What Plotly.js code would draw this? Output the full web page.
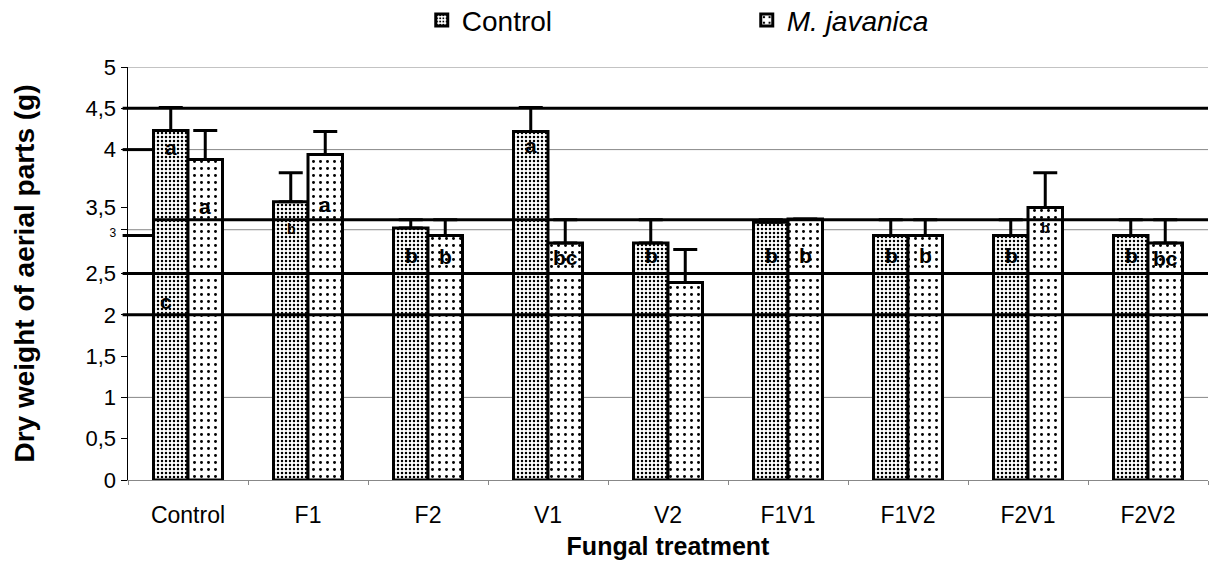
<!DOCTYPE html>
<html><head><meta charset="utf-8">
<script src="https://cdn.plot.ly/plotly-3.0.1.min.js"></script>
<style>body{margin:0;background:#fff}#c{width:1216px;height:562px}</style>
</head><body><div id="c"></div>
<script>
const categories = ["Control","F1","F2","V1","V2","F1V1","F1V2","F2V1","F2V2"];
const controlVals = [4.23,3.37,3.05,4.22,2.87,3.12,2.96,2.96,2.96];
const controlErr  = [0.28,0.35,0.10,0.29,0.28,0.03,0.19,0.19,0.19];
const javVals     = [3.88,3.94,2.96,2.87,2.39,3.16,2.96,3.30,2.87];
const javErr      = [0.35,0.28,0.19,0.28,0.40,0.00,0.19,0.42,0.28];
const controlLetters = ["a","b","b","a","b","b","b","b","b"];
const controlLetterY = [4.02,3.04,2.72,4.05,2.72,2.72,2.72,2.72,2.72];
const javLetters  = ["a","a","b","bc","","b","b","b","bc"];
const javLetterY  = [3.31,3.33,2.70,2.69,0,2.72,2.72,3.05,2.68];
const smallLetter = [false,true,false,false,false,false,false,false,false];
const smallJav    = [false,false,false,false,false,false,false,true,false];
const yTickVals = [0,0.5,1,1.5,2,2.5,3.03,3.3,4,4.5,5];
const yTickText = ["0","0,5","1","1,5","2","2,5","<span style='font-size:12px'>3</span>","3,5","4","4,5","5"];
const gridVals = [1,2,3.03,4,5];
const thickFull = [4.5,3.15,2.5,2];

const font = "Liberation Sans, Arial, sans-serif";
const traces = [
 {type:"bar",name:"Control",x:categories,y:controlVals,
  marker:{color:"#ffffff",line:{color:"#000",width:3},
    pattern:{shape:".",fgcolor:"#000",bgcolor:"#fff",size:4,solidity:0.3}},
  error_y:{type:"data",array:controlErr,arrayminus:controlErr.map(()=>0),symmetric:false,color:"#000",thickness:3,width:12}},
 {type:"bar",name:"<i>M. javanica</i>",x:categories,y:javVals,
  marker:{color:"#ffffff",line:{color:"#000",width:3},
    pattern:{shape:".",fgcolor:"#000",bgcolor:"#fff",size:7,solidity:0.14}},
  error_y:{type:"data",array:javErr,arrayminus:javErr.map(()=>0),symmetric:false,color:"#000",thickness:3,width:12}}
];
const ann = [];
categories.forEach((c,i)=>{
  ann.push({x:c,y:controlLetterY[i],xshift:-17,text:controlLetters[i],showarrow:false,
    font:{family:font,size:smallLetter[i]?14:21,color:"#000",weight:"bold"}});
  if(javLetters[i]) ann.push({x:c,y:javLetterY[i],xshift:17,text:javLetters[i],showarrow:false,
    font:{family:font,size:smallJav[i]?14:21,color:"#000",weight:"bold"}});
});
ann.push({x:"Control",y:2.16,xshift:-22,text:"c",showarrow:false,font:{family:font,size:21,color:"#000",weight:"bold"}});
const shapes = [];
gridVals.forEach(v=>shapes.push({type:"line",xref:"paper",yref:"y",x0:0,x1:1,y0:v,y1:v,layer:"below",line:{color:"#888",width:1}}));
thickFull.forEach(v=>shapes.push({type:"line",xref:"paper",yref:"y",x0:(v===3.15?0.025:-0.005),x1:1,y0:v,y1:v,layer:"above",line:{color:"#000",width:3}}));
shapes.push({type:"line",xref:"paper",yref:"y",x0:-0.005,x1:0.023,y0:2.96,y1:2.96,layer:"above",line:{color:"#000",width:3}});
shapes.push({type:"line",xref:"paper",yref:"y",x0:-0.005,x1:0.023,y0:4.0,y1:4.0,layer:"above",line:{color:"#000",width:3}});

const layout = {
  width:1216,height:562,paper_bgcolor:"#fff",plot_bgcolor:"#fff",
  margin:{l:128,r:8,t:67,b:82,autoexpand:false},
  barmode:"group",bargap:0.425,bargroupgap:0,
  font:{family:font,color:"#000",size:22},
  showlegend:true,
  legend:{orientation:"h",x:0.272,xanchor:"left",yref:"container",y:0.964,yanchor:"middle",
    font:{family:font,size:28},entrywidth:280,itemwidth:30,traceorder:"normal",bgcolor:"rgba(0,0,0,0)"},
  xaxis:{showline:true,linecolor:"#888",linewidth:1,ticks:"outside",tickson:"boundaries",ticklen:4,tickcolor:"#888",
    showgrid:false,automargin:false,ticklabelstandoff:14,
    tickfont:{family:font,size:23},
    title:{text:"<b>Fungal treatment</b>",font:{family:font,size:25},standoff:10}},
  yaxis:{range:[0,5],tickvals:yTickVals,ticktext:yTickText,showgrid:false,zeroline:false,automargin:false,
    showline:true,linecolor:"#000",linewidth:1.5,ticks:"outside",ticklen:6,tickcolor:"#000",
    tickfont:{family:font,size:22},
    title:{text:"<b>Dry weight of aerial parts (g)</b>",font:{family:font,size:28},standoff:42}},
  annotations:ann,shapes:shapes
};
Plotly.newPlot("c",traces,layout,{displayModeBar:false,staticPlot:true});
</script></body></html>
